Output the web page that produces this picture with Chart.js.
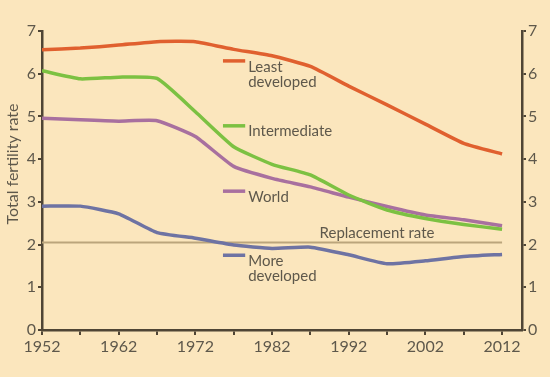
<!DOCTYPE html>
<html>
<head>
<meta charset="utf-8">
<script src="https://cdn.jsdelivr.net/npm/chart.js@4"></script>
<style>
  html, body { margin: 0; padding: 0; background: #fbe6bd; }
  #wrap { width: 550px; height: 377px; }
</style>
</head>
<body>
<div id="wrap"><canvas id="chart" width="550" height="377"></canvas></div>
<script>
// years sampled every 5 years
const years = [1952, 1957, 1962, 1967, 1972, 1977, 1982, 1987, 1992, 1997, 2002, 2007, 2012];
const leastDeveloped = [6.56, 6.6, 6.67, 6.75, 6.75, 6.57, 6.42, 6.17, 5.71, 5.27, 4.82, 4.37, 4.12];
const intermediate = [6.07, 5.88, 5.92, 5.89, 5.11, 4.29, 3.88, 3.63, 3.16, 2.81, 2.61, 2.47, 2.36];
const world = [4.96, 4.92, 4.89, 4.9, 4.53, 3.83, 3.55, 3.35, 3.11, 2.89, 2.69, 2.58, 2.44];
const moreDeveloped = [2.9, 2.9, 2.72, 2.28, 2.15, 1.99, 1.91, 1.94, 1.76, 1.55, 1.62, 1.72, 1.77];
const replacementRate = 2.05;
const tickYears = [1952, 1957, 1962, 1967, 1972, 1977, 1982, 1987, 1992, 1997, 2002, 2007, 2012];

const axisColor = "#4f4535";
const textColor = "#5e584b";
const font = "Lato, 'DejaVu Sans', sans-serif";

const toPoints = (vals) => vals.map((v, i) => ({ x: years[i], y: v }));

// series labels drawn inside the plot, next to a short swatch
const seriesLabels = [
  { lines: ["Least", "developed"], color: "#e0602f", swatchY: 6.3, textY: 6.16 },
  { lines: ["Intermediate"], color: "#7cc142", swatchY: 4.78, textY: 4.65 },
  { lines: ["World"], color: "#a8709f", swatchY: 3.25, textY: 3.12 },
  { lines: ["More", "developed"], color: "#6e73a3", swatchY: 1.75, textY: 1.62 },
];

const annotations = {
  id: "annotations",
  afterDatasetsDraw(chart) {
    const { ctx, scales } = chart;
    const xs = scales.x, ys = scales.y;
    ctx.save();
    ctx.font = "15px " + font;
    ctx.fillStyle = textColor;
    ctx.textBaseline = "middle";
    ctx.textAlign = "left";
    const x0 = xs.getPixelForValue(1975.6);
    const x1 = xs.getPixelForValue(1978.5);
    seriesLabels.forEach((s) => {
      const sy = ys.getPixelForValue(s.swatchY);
      ctx.strokeStyle = s.color;
      ctx.lineWidth = 3.5;
      ctx.beginPath();
      ctx.moveTo(x0, sy);
      ctx.lineTo(x1, sy);
      ctx.stroke();
      s.lines.forEach((t, i) => {
        ctx.fillText(t, x1 + 3, ys.getPixelForValue(s.textY) + i * 15);
      });
    });
    // replacement rate label
    ctx.textBaseline = "alphabetic";
    ctx.fillText("Replacement rate", xs.getPixelForValue(1988.2), ys.getPixelForValue(replacementRate) - 4);

    // y axis title
    ctx.translate(13, 164);
    ctx.rotate(-Math.PI / 2);
    ctx.textAlign = "center";
    ctx.textBaseline = "middle";
    ctx.font = "16px " + font;
    ctx.fillText("Total fertility rate", 0, 0);
    ctx.restore();
  },
};

const yTicks = {
  color: textColor,
  font: { family: font, size: 16 },
  stepSize: 1,
  padding: 2,
};

new Chart(document.getElementById("chart").getContext("2d"), {
  type: "line",
  data: {
    datasets: [
      { label: "Least developed", data: toPoints(leastDeveloped), borderColor: "#e0602f" },
      { label: "Intermediate", data: toPoints(intermediate), borderColor: "#7cc142" },
      { label: "World", data: toPoints(world), borderColor: "#a8709f" },
      { label: "More developed", data: toPoints(moreDeveloped), borderColor: "#6e73a3" },
      {
        label: "Replacement rate",
        data: [{ x: years[0], y: replacementRate }, { x: years[years.length - 1], y: replacementRate }],
        borderColor: "#bba57c",
        borderWidth: 2,
      },
    ],
  },
  options: {
    responsive: false,
    animation: false,
    layout: { padding: { top: 31, left: 0, right: 0, bottom: 0 } },
    elements: {
      point: { radius: 0 },
      line: { borderWidth: 3.5, tension: 0.15, fill: false, borderCapStyle: "butt" },
    },
    plugins: {
      legend: { display: false },
      tooltip: { enabled: false },
    },
    scales: {
      x: {
        type: "linear",
        min: 1952,
        max: 2014.6,
        afterBuildTicks(scale) {
          scale.ticks = tickYears.map((v) => ({ value: v }));
        },
        afterFit(scale) {
          scale.height = 47;
        },
        ticks: {
          autoSkip: false,
          maxRotation: 0,
          color: textColor,
          font: { family: font, size: 16 },
          padding: 2,
          callback: (v) => ((v - 1952) % 10 === 0 ? String(v) : ""),
        },
        grid: { drawOnChartArea: false, color: axisColor, tickLength: 5, lineWidth: 2 },
        border: { color: axisColor, width: 2.5 },
      },
      y: {
        position: "left",
        min: 0,
        max: 7,
        afterFit(scale) {
          scale.width = 42;
        },
        ticks: yTicks,
        grid: { drawOnChartArea: false, color: axisColor, tickLength: 4, lineWidth: 2 },
        border: { color: axisColor, width: 2.5 },
      },
      y2: {
        position: "right",
        min: 0,
        max: 7,
        afterFit(scale) {
          scale.width = 28;
        },
        ticks: yTicks,
        grid: { drawOnChartArea: false, color: axisColor, tickLength: 4, lineWidth: 2 },
        border: { color: axisColor, width: 2.5 },
      },
    },
  },
  plugins: [annotations],
});
</script>
</body>
</html>
